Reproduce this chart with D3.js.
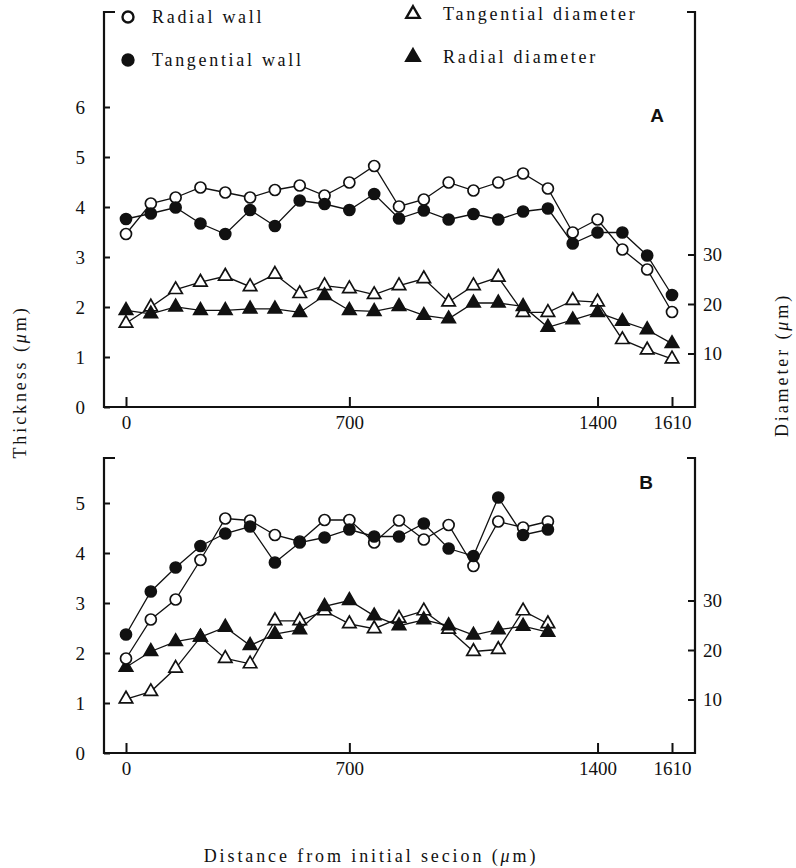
<!DOCTYPE html>
<html>
<head>
<meta charset="utf-8">
<script src="https://cdn.jsdelivr.net/npm/d3@7"></script>
<style>
  body { margin: 0; background: #fff; }
  text { font-family: "Liberation Serif", "DejaVu Serif", serif; fill: #111; }
  text.panel-label { font-family: "Liberation Sans", Arial, sans-serif; font-weight: bold; }
</style>
</head>
<body>
<script>
// distance ticks (section index -> label)
const tickIdx = [0, 9, 19, 22];
const tickLabels = ["0", "700", "1400", "1610"];

// panel A, thickness (um)
const radialWallA = [3.46, 4.07, 4.19, 4.39, 4.29, 4.19, 4.34, 4.43, 4.23, 4.49, 4.82, 4.01,
    4.15, 4.49, 4.33, 4.49, 4.67, 4.37, 3.49, 3.75, 3.15, 2.75, 1.90];
const tangentialWallA = [3.76, 3.87, 3.99, 3.67, 3.46, 3.94, 3.62, 4.13, 4.06, 3.94, 4.26, 3.77,
    3.93, 3.75, 3.86, 3.75, 3.91, 3.97, 3.27, 3.49, 3.49, 3.03, 2.24];
// panel A, diameter (um)
const tangentialDiamA = [16.1, 19.4, 22.9, 24.4, 25.6, 23.5, 26.0, 22.1, 23.7, 23.1, 21.9, 23.7,
    25.1, 20.4, 23.7, 25.4, 18.3, 18.3, 20.7, 20.4, 12.8, 10.7, 8.9];
const radialDiamA = [18.7, 18.0, 19.4, 18.7, 18.7, 19.0, 19.0, 18.3, 21.7, 18.7, 18.5, 19.5,
    17.7, 17.0, 20.2, 20.2, 19.5, 15.3, 16.8, 18.3, 16.5, 14.8, 12.0];

// panel B
const radialWallB = [1.89, 2.67, 3.07, 3.86, 4.69, 4.65, 4.36, 4.23, 4.66, 4.66, 4.21, 4.65,
    4.27, 4.56, 3.74, 4.63, 4.51, 4.63];
const tangentialWallB = [2.37, 3.23, 3.71, 4.14, 4.39, 4.53, 3.81, 4.21, 4.31, 4.47, 4.33, 4.33,
    4.59, 4.09, 3.94, 5.11, 4.36, 4.47];
const tangentialDiamB = [10.1, 11.6, 16.3, 22.6, 18.3, 17.2, 25.9, 25.9, 27.9, 25.3, 24.3, 26.4,
    27.9, 24.2, 19.7, 20.1, 27.9, 25.3];
const radialDiamB = [16.5, 19.7, 21.7, 22.6, 24.6, 20.9, 23.2, 24.1, 28.8, 30.0, 26.9, 24.9,
    26.1, 24.9, 23.0, 24.1, 24.8, 23.6];

const thickTicks = [[0, 1, 2, 3, 4, 5, 6], [0, 1, 2, 3, 4, 5]];
const diamTicks = [10, 20, 30];

const W = 796, H = 868;
const left = 104, right = 695;

const svg = d3.select("body").append("svg")
    .attr("width", W).attr("height", H);

const x = d3.scaleLinear().domain([0, 22]).range([126, 672]);

const circleSym = d3.symbol().type(d3.symbolCircle).size(95);
const triSym = d3.symbol().type(d3.symbolTriangle).size(78);

function drawPanel(top, bottom, label, series, yTicks) {
    let g = svg.append("g");
    let yT = d3.scaleLinear().domain([0, 1]).range([bottom, bottom - 50]);
    let yD = d3.scaleLinear().domain([0, 10]).range([bottom - 4, bottom - 4 - 49.5]);

    // frame (open at the top)
    g.append("path")
        .attr("d", `M${left + 11},${top}H${left}V${bottom}H${right}V${top}H${right - 8}`)
        .attr("fill", "none").attr("stroke", "#111").attr("stroke-width", 2.2);

    let ax = g.append("g").attr("transform", `translate(${left},0)`)
        .call(d3.axisLeft(yT).tickValues(yTicks).tickFormat(d3.format("d"))
            .tickSize(-6).tickPadding(19));
    let axR = g.append("g").attr("transform", `translate(${right},0)`)
        .call(d3.axisRight(yD).tickValues(diamTicks).tickSize(-7).tickPadding(8));
    let axB = g.append("g").attr("transform", `translate(0,${bottom})`)
        .call(d3.axisBottom(x).tickValues(tickIdx).tickFormat((d, i) => tickLabels[i])
            .tickSize(-10).tickPadding(9));
    [ax, axR, axB].forEach(a => {
        a.select(".domain").remove();
        a.selectAll("line").attr("stroke", "#111").attr("stroke-width", 2);
        a.selectAll("text").attr("font-size", 19).attr("fill", "#111");
    });

    // lines
    let line = d3.line().x((d, i) => x(i));
    series.forEach(s => {
        let yy = s.diam ? yD : yT;
        g.append("path")
            .attr("d", line.y(d => yy(d))(s.values))
            .attr("fill", "none").attr("stroke", "#111").attr("stroke-width", 1.3);
    });
    // markers
    series.forEach(s => {
        let yy = s.diam ? yD : yT;
        g.append("g").selectAll("path")
            .data(s.values)
            .enter().append("path")
            .attr("transform", (d, i) => `translate(${x(i)},${yy(d)})`)
            .attr("d", s.diam ? triSym : circleSym)
            .attr("fill", s.filled ? "#111" : "#fff")
            .attr("stroke", "#111").attr("stroke-width", 1.7);
    });

    g.append("text").attr("class", "panel-label")
        .attr("x", label == "A" ? right - 38 : right - 49)
        .attr("y", top + (label == "A" ? 110 : 31))
        .attr("font-size", 19).attr("text-anchor", "middle").text(label);
}

drawPanel(12, 407, "A", [
    { values: tangentialDiamA, diam: true, filled: false },
    { values: radialDiamA, diam: true, filled: true },
    { values: radialWallA, diam: false, filled: false },
    { values: tangentialWallA, diam: false, filled: true }
], thickTicks[0]);

drawPanel(458, 753, "B", [
    { values: tangentialDiamB, diam: true, filled: false },
    { values: radialDiamB, diam: true, filled: true },
    { values: radialWallB, diam: false, filled: false },
    { values: tangentialWallB, diam: false, filled: true }
], thickTicks[1]);

// legend
let legend = [
    { name: "Radial wall", x: 128, y: 17, sym: circleSym, filled: false },
    { name: "Tangential wall", x: 128, y: 60, sym: circleSym, filled: true },
    { name: "Tangential diameter", x: 413, y: 14, sym: triSym, filled: false },
    { name: "Radial diameter", x: 413, y: 57, sym: triSym, filled: true }
];
legend.forEach(l => {
    svg.append("path").attr("transform", `translate(${l.x},${l.y})`)
        .attr("d", l.sym)
        .attr("fill", l.filled ? "#111" : "#fff")
        .attr("stroke", "#111").attr("stroke-width", 2.4);
    svg.append("text").attr("x", l.x + 24 + (l.sym == triSym ? 6 : 0)).attr("y", l.y + 6)
        .attr("font-size", 18).attr("letter-spacing", 2.7).text(l.name);
});

// axis titles
function title(txt, x0, y0, rot) {
    let t = svg.append("text")
        .attr("transform", `translate(${x0},${y0}) rotate(${rot})`)
        .attr("text-anchor", "middle").attr("font-size", 18).attr("letter-spacing", 2.9);
    t.append("tspan").text(txt + " (");
    t.append("tspan").attr("font-style", "italic").text("μ");
    t.append("tspan").text("m)");
}
title("Thickness", 26, 382, -90);
title("Diameter", 788, 365, -90);
title("Distance from initial secion", 371, 862, 0);
</script>
</body>
</html>
